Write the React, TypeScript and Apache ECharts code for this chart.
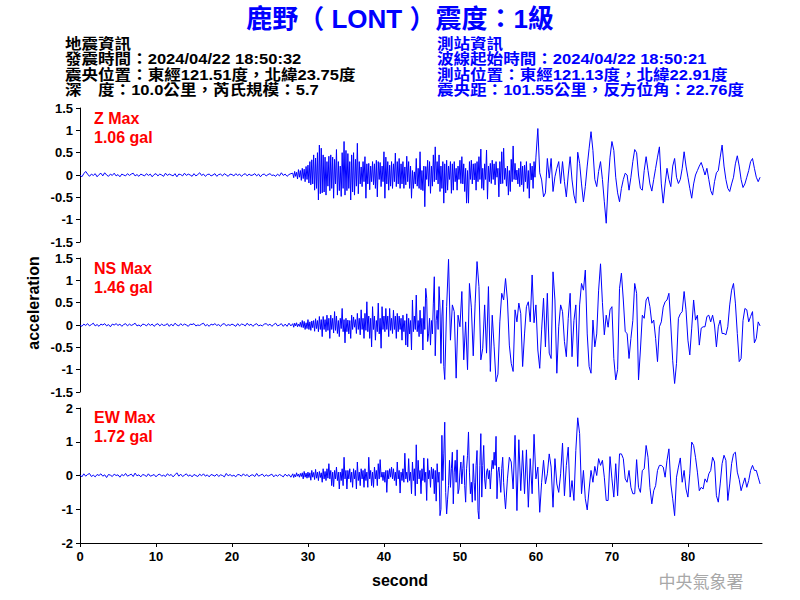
import React, { useEffect, useRef } from 'react';
import * as echarts from 'echarts';

// ---------- data ----------
// Each trace is stored as three segments: a quiet part (0.25 s samples),
// a dense high-frequency part (0.125 s samples) and a late part (0.25 s samples).
const QUIET_STEP = 0.25;
const DENSE_STEP = 0.125;
const LATE_STEP = 0.25;
const DENSE_START = 28;
const LATE_STARTS = [60, 48, 56]; // Z, NS, EW
const X_MAX = 89.75;
const X_TICKS = [0, 10, 20, 30, 40, 50, 60, 70, 80];

const PANEL_LABELS = ['Z Max', 'NS Max', 'EW Max'];
const PANEL_PEAKS = ['1.06 gal', '1.46 gal', '1.72 gal'];
const Y_LIMITS = [1.5, 1.5, 2];
const Y_INTERVALS = [0.5, 0.5, 1];

const TITLE = '鹿野（ LONT ）震度：1級';
const EQ_INFO = [
  '地震資訊',
  '發震時間：2024/04/22 18:50:32',
  '震央位置：東經121.51度，北緯23.75度',
  '深　度：10.0公里，芮氏規模：5.7',
];
const STATION_INFO = [
  '測站資訊',
  '波線起始時間：2024/04/22 18:50:21',
  '測站位置：東經121.13度，北緯22.91度',
  '震央距：101.55公里，反方位角：22.76度',
];

// ----- Z component -----
const zQuiet = [
  0.00, -0.04, 0.03, 0.08,
  0.02, -0.03, 0.02, -0.01,
  0.03, -0.04, 0.01, 0.04,
  -0.02, 0.05, 0.00, -0.03,
  0.02, -0.01, 0.04, -0.02,
  0.01, -0.04, 0.02, 0.00,
  -0.02, 0.03, -0.01, 0.02,
  0.04, -0.02, 0.01, -0.03,
  0.02, 0.00, -0.02, 0.03,
  -0.01, 0.02, -0.04, 0.01,
  0.03, -0.02, 0.02, 0.00,
  -0.03, 0.04, -0.01, 0.02,
  0.00, -0.02, 0.03, -0.04,
  0.02, 0.01, -0.02, 0.04,
  -0.01, 0.02, 0.00, -0.03,
  0.03, -0.02, 0.01, 0.05,
  -0.01, 0.02, -0.03, 0.01,
  0.02, -0.02, 0.00, 0.03,
  -0.03, 0.01, 0.02, -0.02,
  0.03, 0.00, -0.03, 0.02,
  0.01, -0.02, 0.03, -0.01,
  0.02, -0.03, 0.01, 0.03,
  -0.02, 0.02, -0.01, 0.00,
  0.03, -0.02, 0.02, -0.04,
  0.01, 0.02, -0.02, 0.01,
  0.03, -0.01, 0.00, -0.03,
  0.02, -0.02, 0.05, -0.01,
  0.02, -0.03, 0.01, 0.03,
];
const zDense = [
  0.04, -0.06, 0.08, -0.03, 0.06, -0.09, 0.12, -0.05, // 28 s
  0.10, -0.12, 0.15, -0.08, 0.13, -0.15, 0.19, -0.10, // 29
  0.22, -0.18, 0.30, -0.22, 0.34, -0.20, 0.45, -0.34, // 30
  0.38, -0.30, 0.50, -0.56, 0.67, -0.42, 0.60, -0.40, // 31
  0.45, -0.38, 0.40, -0.45, 0.30, -0.25, 0.42, -0.35, // 32
  0.45, -0.30, 0.40, -0.52, 0.35, -0.20, 0.57, -0.45, // 33
  0.30, -0.35, 0.20, -0.48, 0.50, -0.30, 0.75, -0.45, // 34
  0.55, -0.35, 0.48, -0.30, 0.30, -0.56, 0.45, -0.38, // 35
  0.50, -0.45, 0.35, -0.25, 0.71, -0.42, 0.30, -0.20, // 36
  0.18, -0.26, 0.30, -0.15, 0.41, -0.52, 0.25, -0.20, // 37
  0.26, -0.33, 0.20, -0.15, 0.30, -0.22, 0.25, -0.30, // 38
  0.33, -0.49, 0.30, -0.10, 0.28, -0.26, 0.20, -0.15, // 39
  0.52, -0.52, 0.40, -0.20, 0.30, -0.34, 0.22, -0.25, // 40
  0.30, -0.30, 0.25, -0.15, 0.49, -0.26, 0.30, -0.20, // 41
  0.37, -0.30, 0.25, -0.20, 0.30, -0.30, 0.18, -0.22, // 42
  0.42, -0.15, 0.30, -0.30, 0.20, -0.52, 0.10, -0.30, // 43
  0.07, -0.20, 0.37, -0.25, 0.15, -0.30, 0.52, -0.33, // 44
  0.10, -0.35, 0.20, -0.71, 0.19, -0.10, 0.33, -0.25, // 45
  0.30, -0.41, 0.20, -0.25, 0.45, -0.15, 0.63, -0.11, // 46
  0.30, -0.20, 0.45, -0.37, 0.20, -0.30, 0.30, -0.63, // 47
  0.25, -0.40, 0.33, -0.34, 0.20, -0.10, 0.30, -0.41, // 48
  0.25, -0.34, 0.30, -0.15, 0.15, -0.34, 0.20, -0.10, // 49
  0.33, -0.19, 0.41, -0.20, 0.25, -0.37, 0.15, -0.63, // 50
  0.10, -0.63, 0.30, -0.10, 0.33, -0.20, 0.25, -0.11, // 51
  0.26, -0.34, 0.30, -0.15, 0.41, -0.10, 0.58, -0.30, // 52
  0.15, -0.34, 0.25, -0.10, 0.56, -0.54, 0.20, -0.15, // 53
  0.26, -0.19, 0.33, -0.10, 0.25, -0.22, 0.30, -0.05, // 54
  0.15, -0.49, 0.30, -0.20, 0.52, -0.19, 0.60, -0.10, // 55
  0.15, -0.25, 0.20, -0.45, 0.10, -0.37, 0.35, -0.15, // 56
  0.65, -0.10, 0.26, -0.11, 0.11, -0.20, 0.15, -0.26, // 57
  0.30, -0.22, 0.20, -0.37, 0.22, -0.15, 0.30, -0.30, // 58
  0.10, -0.52, 0.26, -0.11, 0.20, -0.30, 0.30, -0.05, // 59
];
const zLate = [
  0.40, 1.04, 0.05, -0.11, // 60 s
  -0.49, -0.40, 0.37, -0.07,
  0.37, -0.37, -0.04, 0.15,
  0.30, -0.19, 0.30, -0.15,
  -0.49, 0.00, 0.41, -0.11,
  -0.45, -0.63, 0.51, 0.26,
  -0.20, -0.60, -0.26, 0.20,
  0.60, 0.97, 0.55, -0.10,
  -0.26, 0.08, 0.30, -0.10,
  -0.60, -1.08, -0.20, 0.40,
  0.75, 0.55, -0.05, -0.40, // 70 s
  -0.60, -0.30, -0.10, 0.04,
  0.00, -0.34, -0.05, 0.30,
  0.57, 0.50, 0.00, -0.30,
  -0.34, 0.10, 0.41, 0.10,
  -0.20, -0.36, -0.10, 0.15,
  0.40, 0.63, -0.20, -0.63,
  -0.20, 0.15, -0.10, -0.26,
  0.20, 0.37, -0.05, -0.19,
  -0.10, 0.15, 0.52, 0.20,
  -0.05, -0.30, -0.52, -0.20, // 80 s
  0.00, 0.10, 0.20, 0.28,
  0.15, 0.00, 0.15, -0.10,
  -0.35, -0.45, -0.15, 0.05,
  0.10, 0.40, 0.67, 0.20,
  -0.10, -0.30, -0.37, -0.20,
  -0.05, 0.25, 0.43, 0.20,
  -0.10, -0.28, -0.20, -0.05,
  0.10, 0.30, 0.37, 0.15,
  -0.05, -0.15, -0.05,
];

// ----- NS component -----
const nsQuiet = [
  0.00, -0.03, 0.02, -0.01,
  0.03, -0.02, 0.01, 0.04,
  -0.02, 0.01, -0.03, 0.02,
  0.00, 0.03, -0.02, 0.01,
  -0.04, 0.02, 0.00, 0.03,
  -0.01, 0.02, -0.03, 0.01,
  0.03, -0.02, 0.02, -0.01,
  0.01, 0.04, -0.02, 0.00,
  -0.03, 0.02, 0.01, -0.02,
  0.03, -0.01, 0.02, -0.03,
  0.01, 0.03, -0.02, 0.02,
  -0.01, 0.00, 0.03, -0.03,
  0.02, -0.02, 0.04, 0.00,
  -0.02, 0.03, -0.01, 0.02,
  0.00, -0.03, 0.02, 0.01,
  0.03, -0.02, 0.00, -0.01,
  0.02, 0.04, -0.02, 0.01,
  -0.03, 0.02, 0.00, 0.03,
  -0.01, 0.01, -0.03, 0.02,
  0.03, -0.02, 0.01, -0.01,
  0.02, 0.00, -0.03, 0.03,
  -0.02, 0.02, 0.01, -0.02,
  0.04, -0.01, 0.02, -0.03,
  0.01, 0.03, -0.02, 0.00,
  -0.02, 0.02, 0.03, -0.01,
  0.02, -0.03, 0.01, 0.04,
  -0.02, 0.00, 0.03, -0.03,
  0.02, -0.03, 0.04, -0.02,
];
const nsDense = [
  0.03, -0.05, 0.04, -0.02, 0.05, -0.04, 0.02, -0.03, // 28 s
  0.06, -0.05, 0.10, -0.06, 0.08, -0.10, 0.05, -0.08, // 29
  0.12, -0.10, 0.07, -0.12, 0.09, -0.06, 0.10, -0.14, // 30
  0.14, -0.08, 0.10, -0.15, 0.19, -0.10, 0.12, -0.26, // 31
  0.19, -0.10, 0.12, -0.15, 0.22, -0.12, 0.15, -0.30, // 32
  0.22, -0.10, 0.15, -0.18, 0.30, -0.12, 0.20, -0.19, // 33
  0.10, -0.26, 0.15, -0.08, 0.37, -0.15, 0.12, -0.40, // 34
  0.15, -0.15, 0.11, -0.20, 0.10, -0.30, 0.22, -0.10, // 35
  0.18, -0.05, 0.12, -0.19, 0.26, -0.10, 0.15, -0.22, // 36
  0.34, -0.10, 0.15, -0.30, 0.26, -0.12, 0.52, -0.15, // 37
  0.20, -0.30, 0.15, -0.49, 0.41, -0.10, 0.20, -0.34, // 38
  0.10, -0.15, 0.49, -0.20, 0.15, -0.52, 0.41, -0.10, // 39
  0.20, -0.15, 0.37, -0.10, 0.20, -0.26, 0.37, -0.12, // 40
  0.15, -0.19, 0.33, -0.10, 0.20, -0.30, 0.26, -0.15, // 41
  0.20, -0.10, 0.15, -0.34, 0.22, -0.15, 0.10, -0.45, // 42
  0.25, -0.49, 0.15, -0.20, 0.10, -0.56, 0.56, -0.15, // 43
  0.20, -0.10, 0.67, -0.15, 0.10, -0.26, 0.33, -0.20, // 44
  0.15, -0.56, 0.41, -0.10, 0.82, 0.60, -0.37, -0.20, // 45
  0.15, -0.45, 0.10, -0.20, 0.49, 1.08, -0.69, 0.10, // 46
  0.33, -0.10, 0.86, 0.40, -0.86, 0.20, 0.56, -0.93, // 47
];
const nsLate = [
  -1.22, 0.41, 1.47, -0.34, // 48 s
  0.45, 0.30, -1.19, 0.22,
  -0.04, 0.75, -0.78, 0.07, // 50 s
  -1.00, 0.93, 0.40, -0.69,
  0.49, 1.42, 0.86, -0.78,
  -0.52, 0.45, -0.63, 0.86,
  -1.04, 0.22, -0.49, -1.27,
  -1.10, 0.07, 0.71, 0.56,
  1.04, 0.56, -0.45, -0.86,
  -1.04, 0.34, 0.07, 0.49,
  0.26, -0.93, -0.20, 0.41,
  0.52, 0.07, 1.12, 0.05,
  0.45, -0.56, -0.97, -0.11, // 60 s
  0.60, -0.49, 0.71, -0.63,
  -0.75, 1.19, 0.56, -1.08,
  -0.04, 0.45, 0.30, -0.37,
  -0.71, 0.15, 0.71, -0.71,
  0.10, 0.45, -0.93, 0.45,
  0.93, 0.78, 1.23, -0.20,
  -0.93, -1.08, 0.11, -0.49,
  -0.20, 0.78, 1.37, 0.50,
  -0.22, 0.22, -0.05, 0.34,
  0.41, -0.75, -1.23, -1.00, // 70 s
  0.82, 1.16, 0.56, -0.15,
  -0.19, -0.75, -0.30, 0.10,
  0.93, 0.71, -1.23, -0.56,
  0.22, 0.15, 0.56, 0.63,
  0.41, 0.04, 0.11, -0.30,
  -0.82, -0.04, 0.07, 0.40,
  0.52, 0.56, 0.71, 0.00,
  -0.80, -1.31, -0.86, 0.15,
  0.25, 0.30, 0.75, 0.34,
  -0.34, -0.67, -0.07, 0.56, // 80 s
  0.11, 0.22, -0.45, -0.07,
  -0.04, -0.04, 0.19, 0.22,
  0.07, 0.22, 0.00, -0.49,
  -0.04, 0.11, -0.19, -0.19,
  -0.22, -0.04, 0.45, 0.78,
  0.93, 0.49, -0.19, -0.82,
  -0.75, 0.10, 0.37, 0.34,
  0.07, 0.19, 0.30, -0.40,
  -0.30, 0.07, -0.02,
];

// ----- EW component -----
const ewQuiet = [
  0.02, -0.04, 0.05, -0.02,
  0.03, 0.06, -0.03, 0.01,
  -0.04, 0.03, 0.00, 0.05,
  -0.02, 0.02, -0.06, 0.03,
  0.01, -0.03, 0.04, 0.00,
  0.02, -0.05, 0.03, -0.01,
  0.06, -0.02, 0.01, 0.04,
  -0.03, 0.07, -0.01, 0.02,
  -0.04, 0.03, 0.01, -0.03,
  0.05, -0.02, 0.00, 0.03,
  -0.04, 0.02, 0.04, -0.02,
  0.01, -0.03, 0.05, 0.00,
  0.03, -0.04, 0.02, 0.08,
  -0.02, 0.04, -0.03, 0.01,
  0.05, -0.02, 0.02, -0.04,
  0.03, 0.00, -0.03, 0.04,
  -0.01, 0.05, -0.02, 0.02,
  -0.04, 0.03, 0.01, -0.02,
  0.04, -0.03, 0.02, 0.00,
  -0.04, 0.06, -0.01, 0.03,
  -0.02, 0.01, -0.04, 0.03,
  0.02, -0.02, 0.05, -0.01,
  0.03, -0.04, 0.01, 0.02,
  -0.03, 0.06, -0.02, 0.01,
  0.04, -0.03, 0.02, -0.02,
  0.01, 0.04, -0.04, 0.02,
  -0.02, 0.03, 0.00, -0.04,
  0.04, -0.02, 0.03, -0.05,
];
const ewDense = [
  0.05, -0.06, 0.03, -0.04, 0.08, -0.02, 0.04, -0.05, // 28 s
  0.06, -0.03, 0.08, -0.10, 0.12, -0.05, 0.07, -0.08, // 29
  0.10, -0.06, 0.08, -0.14, 0.15, -0.05, 0.09, -0.12, // 30
  0.18, -0.08, 0.10, -0.15, 0.12, -0.06, 0.08, -0.20, // 31
  0.20, -0.10, 0.12, -0.15, 0.20, -0.08, 0.35, -0.10, // 32
  0.15, -0.30, 0.10, -0.33, 0.15, -0.10, 0.25, -0.15, // 33
  0.10, -0.40, 0.10, -0.15, 0.20, -0.30, 0.54, -0.10, // 34
  0.15, -0.40, 0.15, -0.10, 0.20, -0.20, 0.10, -0.35, // 35
  0.20, -0.10, 0.15, -0.40, 0.40, -0.15, 0.10, -0.30, // 36
  0.20, -0.10, 0.15, -0.35, 0.20, -0.15, 0.10, -0.35, // 37
  0.54, -0.10, 0.15, -0.30, 0.10, -0.35, 0.25, -0.10, // 38
  0.15, -0.30, 0.35, -0.10, 0.47, -0.05, 0.10, -0.15, // 39
  0.10, -0.20, 0.15, -0.50, 0.15, -0.10, 0.20, -0.05, // 40
  0.25, -0.10, 0.20, -0.15, 0.10, -0.30, 0.40, -0.10, // 41
  0.15, -0.52, 0.10, -0.15, 0.20, -0.20, 0.66, -0.10, // 42
  0.10, -0.20, 0.50, -0.15, 0.10, -0.54, 0.40, -0.15, // 43
  0.20, -0.60, 0.91, -0.25, 0.45, -0.10, 0.15, -0.54, // 44
  0.20, -0.15, 0.52, -0.20, 0.10, -0.74, 0.50, -0.10, // 45
  0.15, -0.35, 0.25, -0.10, 0.20, -0.54, 0.15, -0.76, // 46
  0.35, -0.20, 0.10, -1.19, -1.00, 1.19, -0.15, 0.64, // 47
  1.58, -0.50, -1.14, -0.70, -0.30, 0.45, -0.35, 0.20, // 48
  0.69, -0.84, 0.10, 0.45, -0.20, 0.76, -0.54, -0.40, // 49
  0.10, 0.40, -0.25, 0.20, 0.59, -0.30, -0.79, 0.20, // 50
  0.60, 1.29, 0.10, -0.54, -0.20, -0.79, 0.35, -0.20, // 51
  -0.74, 0.30, 0.74, -1.04, -1.29, 0.30, 1.24, -0.64, // 52
  0.30, 0.89, -0.10, -0.40, 0.10, 0.20, -0.10, 0.15, // 53
  -0.40, 0.10, 0.45, 0.20, 0.69, 0.30, 1.16, -0.69, // 54
  0.10, 0.25, -0.10, -0.50, 0.20, 0.54, -0.20, -0.64, // 55
];
const ewLate = [
  -0.99, -0.10, 0.54, 0.40, // 56 s
  -0.40, 1.19, -1.04, 1.06,
  -0.45, 0.74, -0.54, 0.76,
  -0.94, 0.50, -0.54, 1.22,
  -0.10, 0.25, -1.09, -0.20, // 60 s
  0.45, -0.25, 0.05, 0.64,
  0.25, -0.94, 0.50, -0.25,
  -0.50, 0.05, 0.96, -0.60,
  0.30, 0.84, -0.64, -0.15,
  -0.74, 0.74, 1.71, 1.24,
  -0.54, 0.15, -0.69, -1.02,
  -0.40, 0.15, -0.20, 0.27,
  0.00, 0.50, 0.30, 0.45,
  -0.05, -0.74, -0.74, 0.56,
  -0.10, -0.64, 0.35, -0.60, // 70 s
  0.64, 0.64, 0.50, -0.10,
  -0.20, 0.15, -0.35, -0.54,
  -0.54, 0.47, -0.35, -0.50,
  0.15, 0.20, 0.89, 0.54,
  -0.35, -0.84, -0.45, -0.30,
  0.15, 0.30, 0.30, 0.25,
  -0.05, 0.45, 0.79, -0.25,
  -0.69, -1.19, -0.05, 0.25,
  0.52, -0.20, 0.15, -0.40,
  -0.64, 0.05, 0.99, 0.89, // 80 s
  0.54, 0.10, -0.45, -0.35,
  -0.40, -0.10, -0.20, 0.05,
  0.15, 0.54, 0.40, -0.60,
  -0.79, -0.25, 0.35, 0.60,
  0.45, -0.74, -0.25, 0.35,
  0.64, 0.69, 0.10, -0.12,
  -0.45, -0.25, -0.07, -0.35,
  -0.15, 0.15, 0.30, 0.15,
  0.15, -0.05, -0.25,
];

const TRACE_SEGMENTS = [
  [zQuiet, zDense, zLate],
  [nsQuiet, nsDense, nsLate],
  [ewQuiet, ewDense, ewLate],
];

function tracePoints(i: number): number[][] {
  const [quiet, dense, late] = TRACE_SEGMENTS[i];
  const pts: number[][] = [];
  quiet.forEach((v, k) => pts.push([k * QUIET_STEP, v]));
  dense.forEach((v, k) => pts.push([DENSE_START + k * DENSE_STEP, v]));
  late.forEach((v, k) => pts.push([LATE_STARTS[i] + k * LATE_STEP, v]));
  return pts;
}

// ---------- layout ----------
const GRID_LEFT = 80;
const GRID_WIDTH = 682;
const GRID_TOPS = [108, 258, 408];
const GRID_HEIGHTS = [134, 134, 135];
const LABEL_YS = [118, 268, 417];
const INFO_LINE_YS = [44, 59.3, 74.6, 90];

const LATIN = "'Liberation Sans', Arial, 'Noto Sans CJK TC', sans-serif";
const BLUE = '#0000ff';

function buildOption() {
  const grids = GRID_TOPS.map((top, i) => ({
    left: GRID_LEFT,
    top,
    width: GRID_WIDTH,
    height: GRID_HEIGHTS[i],
    containLabel: false,
  }));

  const xAxes = GRID_TOPS.map((_, i) => {
    const isBottom = i === GRID_TOPS.length - 1;
    return {
      type: 'value',
      gridIndex: i,
      min: 0,
      max: X_MAX,
      interval: 10,
      show: isBottom,
      axisLine: { show: isBottom, onZero: false, lineStyle: { color: '#000', width: 1 } },
      axisTick: {
        show: isBottom,
        inside: false,
        length: 4,
        lineStyle: { color: '#000' },
        customValues: X_TICKS,
      },
      axisLabel: {
        show: isBottom,
        color: '#000',
        fontSize: 13,
        fontWeight: 'bold',
        fontFamily: LATIN,
        margin: 7,
        customValues: X_TICKS,
      },
      splitLine: { show: false },
    };
  });

  const yAxes = GRID_TOPS.map((_, i) => ({
    type: 'value',
    gridIndex: i,
    min: -Y_LIMITS[i],
    max: Y_LIMITS[i],
    interval: Y_INTERVALS[i],
    axisLine: { show: true, onZero: false, lineStyle: { color: '#000', width: 1 } },
    axisTick: { show: true, inside: false, length: 4, lineStyle: { color: '#000' } },
    axisLabel: {
      color: '#000',
      fontSize: 13,
      fontWeight: 'bold',
      fontFamily: LATIN,
      margin: 7,
    },
    splitLine: { show: false },
  }));

  const series = TRACE_SEGMENTS.map((_, i) => ({
    type: 'line',
    xAxisIndex: i,
    yAxisIndex: i,
    data: tracePoints(i),
    showSymbol: false,
    symbol: 'none',
    lineStyle: { color: BLUE, width: 1 },
    silent: true,
  }));

  const graphic: any[] = [
    {
      type: 'text',
      x: 400,
      y: 19,
      style: {
        text: TITLE,
        fill: BLUE,
        font: `bold 26px ${LATIN}`,
        textAlign: 'center',
        textVerticalAlign: 'middle',
      },
    },
  ];
  const infoBlocks = [
    { lines: EQ_INFO, x: 65, color: '#000' },
    { lines: STATION_INFO, x: 437, color: BLUE },
  ];
  infoBlocks.forEach((blk) => {
    blk.lines.forEach((line, k) => {
      graphic.push({
        type: 'text',
        x: blk.x,
        y: INFO_LINE_YS[k],
        scaleX: 1.15,
        style: {
          text: line,
          fill: blk.color,
          font: `bold 14.4px ${LATIN}`,
          textAlign: 'left',
          textVerticalAlign: 'middle',
        },
      });
    });
  });
  PANEL_LABELS.forEach((lab, i) => {
    graphic.push({
      type: 'text',
      x: 94,
      y: LABEL_YS[i],
      style: {
        text: lab,
        fill: '#ff0000',
        font: `bold 16px ${LATIN}`,
        textAlign: 'left',
        textVerticalAlign: 'middle',
      },
    });
    graphic.push({
      type: 'text',
      x: 94,
      y: LABEL_YS[i] + 19,
      style: {
        text: PANEL_PEAKS[i],
        fill: '#ff0000',
        font: `bold 16px ${LATIN}`,
        textAlign: 'left',
        textVerticalAlign: 'middle',
      },
    });
  });
  graphic.push({
    type: 'text',
    x: 33,
    y: 303,
    rotation: Math.PI / 2,
    style: {
      text: 'acceleration',
      fill: '#000',
      font: `bold 16px ${LATIN}`,
      textAlign: 'center',
      textVerticalAlign: 'middle',
    },
  });
  graphic.push({
    type: 'text',
    x: 400,
    y: 580,
    style: {
      text: 'second',
      fill: '#000',
      font: `bold 16px ${LATIN}`,
      textAlign: 'center',
      textVerticalAlign: 'middle',
    },
  });
  graphic.push({
    type: 'text',
    x: 701,
    y: 580,
    style: {
      text: '中央氣象署',
      fill: '#a8a8a8',
      font: `17px 'Noto Sans CJK TC', sans-serif`,
      textAlign: 'center',
      textVerticalAlign: 'middle',
    },
  });

  return {
    animation: false,
    backgroundColor: '#ffffff',
    grid: grids,
    xAxis: xAxes,
    yAxis: yAxes,
    series,
    graphic,
  };
}

export default function App() {
  const ref = useRef<HTMLDivElement>(null);
  useEffect(() => {
    if (!ref.current) return;
    const chart = echarts.init(ref.current, null, { renderer: 'svg' });
    chart.setOption(buildOption() as any);
    return () => {
      chart.dispose();
    };
  }, []);
  return (
    <div
      ref={ref}
      style={{ position: 'absolute', left: 0, top: 0, width: 800, height: 600, background: '#fff' }}
    />
  );
}
